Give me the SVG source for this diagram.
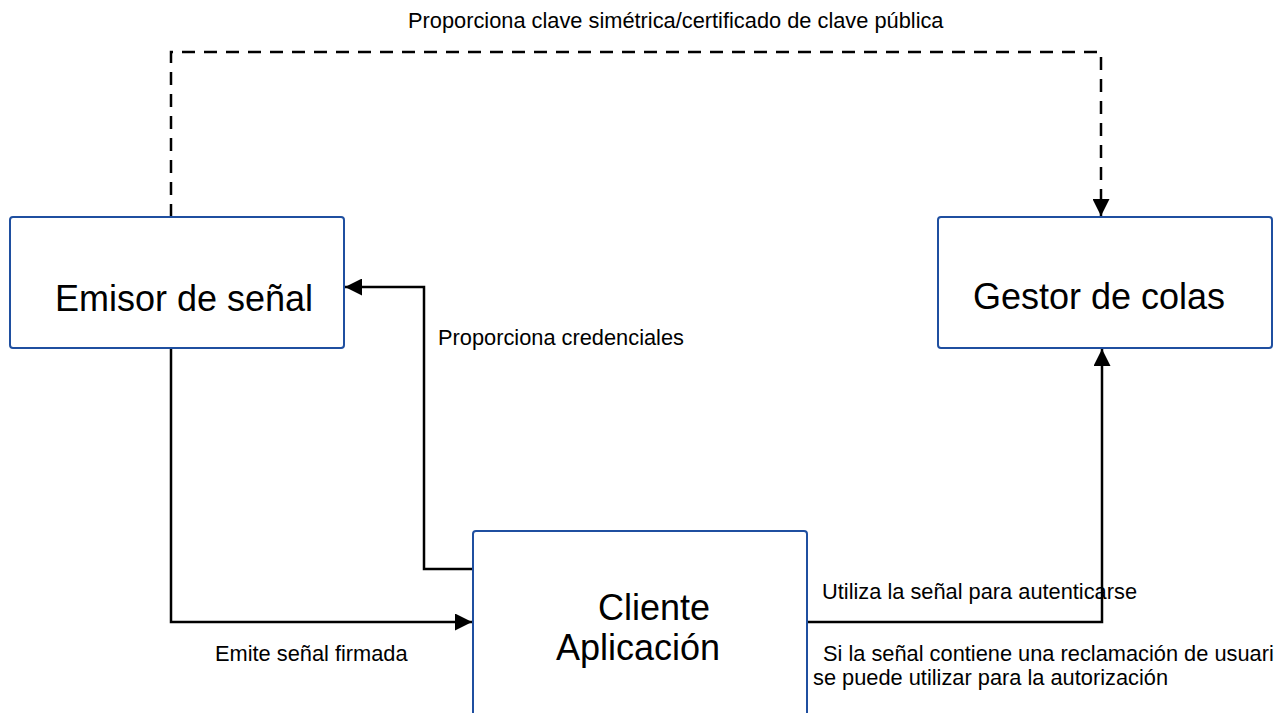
<svg xmlns="http://www.w3.org/2000/svg" width="1287" height="713" viewBox="0 0 1287 713">
  <style>
    .box { fill: #ffffff; stroke: #1f4fa0; stroke-width: 2; }
    .big { font-family: "Liberation Sans", Arial, sans-serif; font-size: 36px; fill: #000000; }
    .lbl { font-family: "Liberation Sans", Arial, sans-serif; font-size: 21.8px; fill: #000000; }
    .conn { fill: none; stroke: #000000; stroke-width: 2.5; }
    .dash { stroke-dasharray: 13 9; }
  </style>
  <defs>
    <marker id="arrow" markerUnits="userSpaceOnUse" markerWidth="17" markerHeight="17" viewBox="0 0 16 16" refX="16" refY="8" orient="auto">
      <path d="M0,0 L16,8 L0,16 Z" fill="#000000"/>
    </marker>
  </defs>
  <rect width="1287" height="713" fill="#ffffff"/>

  <g id="connectors">
    <path class="conn dash" d="M171,217 V52 H1101 V216" marker-end="url(#arrow)"/>
    <path class="conn" d="M473,569 H424 V287 H345" marker-end="url(#arrow)"/>
    <path class="conn" d="M171,348 V622 H472" marker-end="url(#arrow)"/>
    <path class="conn" d="M807,622 H1102 V349" marker-end="url(#arrow)"/>
  </g>

  <g id="labels">
    <text class="lbl" x="408" y="28">Proporciona clave simétrica/certificado de clave pública</text>
    <text class="lbl" x="438" y="345">Proporciona credenciales</text>
    <text class="lbl" x="215" y="661">Emite señal firmada</text>
    <text class="lbl" x="822" y="599">Utiliza la señal para autenticarse</text>
    <text class="lbl" x="823" y="661">Si la señal contiene una reclamación de usuari</text>
    <text class="lbl" x="813" y="685">se puede utilizar para la autorización</text>
  </g>

  <g id="emisor">
    <rect class="box" x="10" y="217" width="334" height="131" rx="3"/>
    <text class="big" x="55" y="311">Emisor de señal</text>
  </g>

  <g id="gestor">
    <rect class="box" x="938" y="217" width="334" height="131" rx="3"/>
    <text class="big" x="973" y="309">Gestor de colas</text>
  </g>

  <g id="cliente">
    <rect class="box" x="473" y="531" width="334" height="200" rx="3"/>
    <text class="big" x="598" y="620">Cliente</text>
    <text class="big" x="556" y="660">Aplicación</text>
  </g>
</svg>
